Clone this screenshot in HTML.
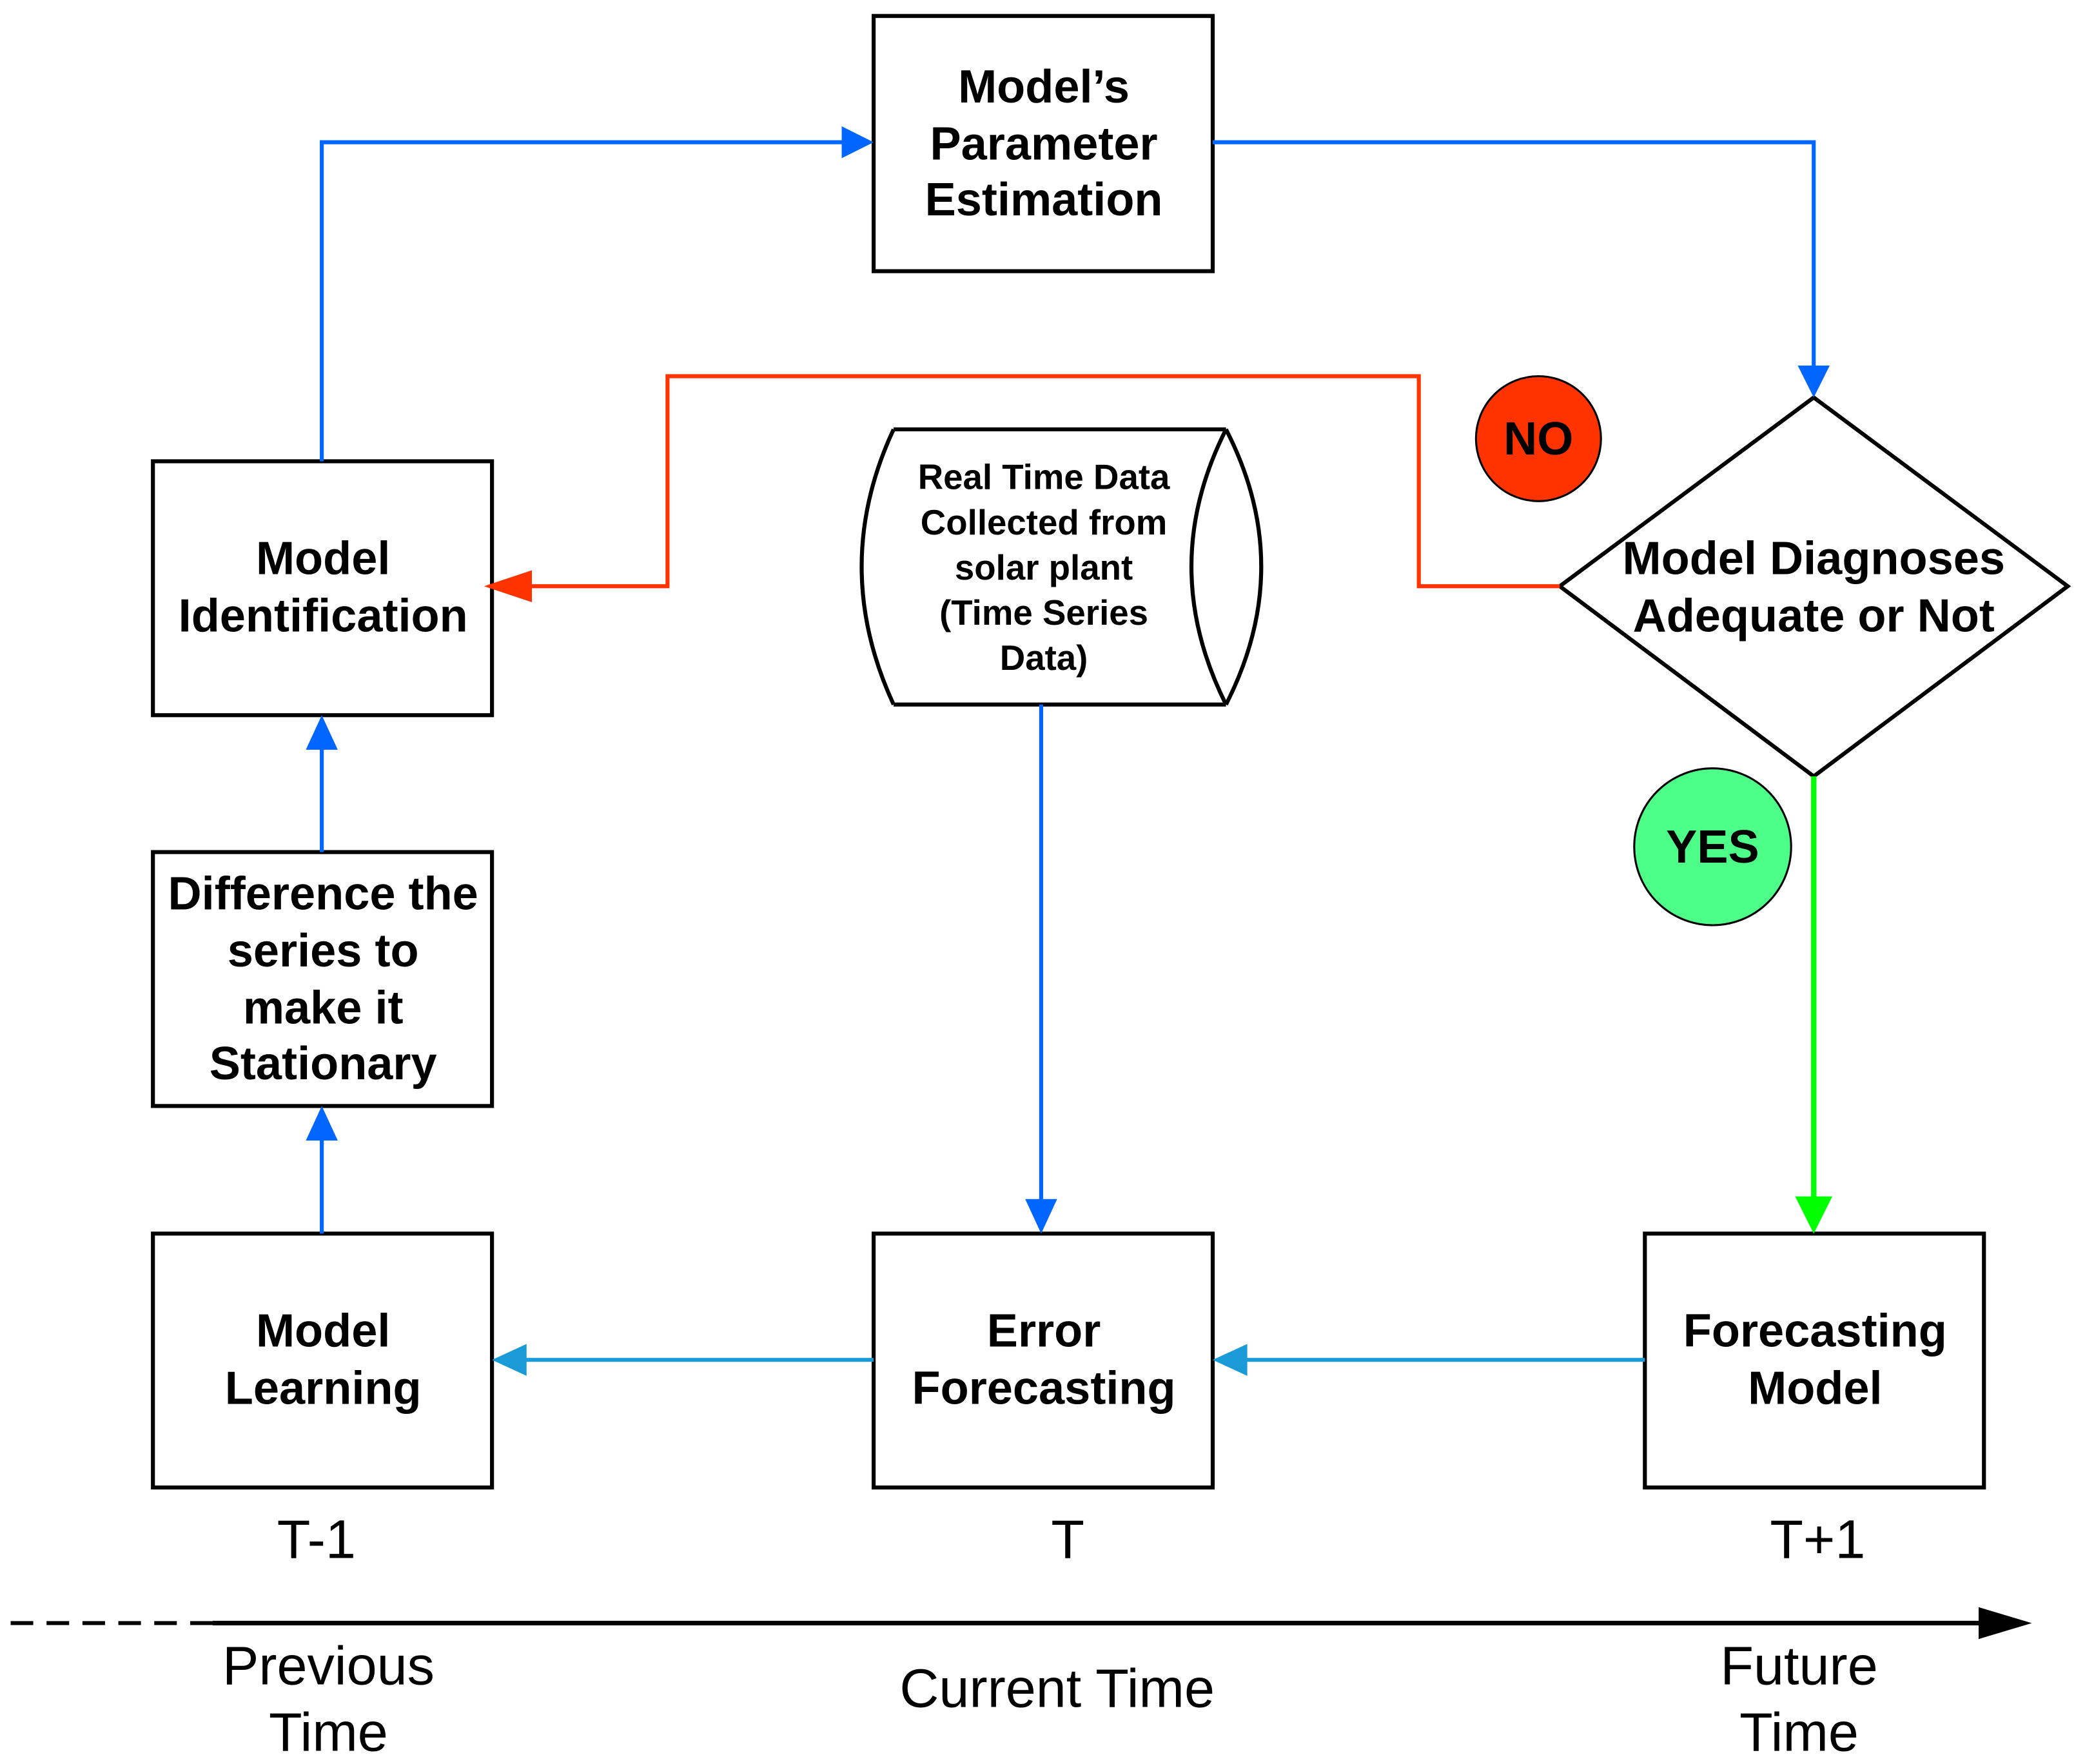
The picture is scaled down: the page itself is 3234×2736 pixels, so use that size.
<!DOCTYPE html>
<html><head><meta charset="utf-8"><style>
html,body{margin:0;padding:0;background:#fff;}
svg{display:block;}
text{font-family:"Liberation Sans",Arial,sans-serif;}
.b{font-weight:bold;font-size:35px;text-anchor:middle;fill:#000;}
.c{font-weight:bold;font-size:26.5px;text-anchor:middle;fill:#000;}
.n{font-size:41px;text-anchor:middle;fill:#000;}
</style></head><body>
<svg width="3234" height="2736" viewBox="0 0 1568 1327" preserveAspectRatio="none" xmlns="http://www.w3.org/2000/svg">
<g fill="none" stroke="#000" stroke-width="3">
<rect x="657" y="12" width="255" height="192"/>
<rect x="115" y="347" width="255" height="191"/>
<rect x="115" y="641" width="255" height="191"/>
<rect x="115" y="928" width="255" height="191"/>
<rect x="657" y="928" width="255" height="191"/>
<rect x="1237" y="928" width="255" height="191"/>
<path d="M1364,299 L1555,441 L1364,584 L1173,441 Z"/>
<path d="M672,323 L922,323 M672,530 L922,530 M672,323 Q624,426 672,530 M922,323 Q975,426 922,530 M922,323 Q870,426 922,530"/>
</g>
<circle cx="1157" cy="330" r="47" fill="#ff3300" stroke="#000" stroke-width="1.5"/>
<circle cx="1288" cy="637" r="59" fill="#4dff88" stroke="#000" stroke-width="1.5"/>
<g fill="none" stroke-width="3">
<path d="M242,347 V107 H636" stroke="#0066ff"/>
<path d="M912,107 H1364 V280" stroke="#0066ff"/>
<path d="M783,530 V908" stroke="#0066ff"/>
<path d="M242,928 V852" stroke="#0066ff"/>
<path d="M242,641 V558" stroke="#0066ff"/>
<path d="M1173,441 H1067 V283 H502 V441 H395" stroke="#ff3300"/>
<path d="M1364,584 V905" stroke="#00ff00" stroke-width="4"/>
<path d="M1237,1023 H935" stroke="#1a9ad6"/>
<path d="M657,1023 H392" stroke="#1a9ad6"/>
<path d="M8,1221 H160" stroke="#000" stroke-dasharray="17,10"/>
<path d="M160,1221 H1495" stroke="#000" stroke-width="3.5"/>
</g>
<g>
<path d="M657,107 L633,95 L633,119 Z" fill="#0066ff"/>
<path d="M1364,299 L1352,275 L1376,275 Z" fill="#0066ff"/>
<path d="M783,928 L771,902 L795,902 Z" fill="#0066ff"/>
<path d="M242,832 L230,858 L254,858 Z" fill="#0066ff"/>
<path d="M242,538 L230,564 L254,564 Z" fill="#0066ff"/>
<path d="M364,441 L400,429 L400,453 Z" fill="#ff3300"/>
<path d="M1364,928 L1350,900 L1378,900 Z" fill="#00ff00"/>
<path d="M912,1023 L938,1011 L938,1035 Z" fill="#1a9ad6"/>
<path d="M370,1023 L396,1011 L396,1035 Z" fill="#1a9ad6"/>
<path d="M1528,1221 L1488,1209 L1488,1233 Z" fill="#000"/>
</g>
<text class="b" x="785" y="77">Model’s</text>
<text class="b" x="785" y="120">Parameter</text>
<text class="b" x="785" y="162">Estimation</text>
<text class="b" x="243" y="432">Model</text>
<text class="b" x="243" y="475">Identification</text>
<text class="b" x="243" y="684">Difference the</text>
<text class="b" x="243" y="727">series to</text>
<text class="b" x="243" y="770">make it</text>
<text class="b" x="243" y="812">Stationary</text>
<text class="b" x="243" y="1013">Model</text>
<text class="b" x="243" y="1056">Learning</text>
<text class="b" x="785" y="1013">Error</text>
<text class="b" x="785" y="1056">Forecasting</text>
<text class="b" x="1365" y="1013">Forecasting</text>
<text class="b" x="1365" y="1056">Model</text>
<text class="b" x="1364" y="432">Model Diagnoses</text>
<text class="b" x="1364" y="475">Adequate or Not</text>
<text class="c" x="785" y="368">Real Time Data</text>
<text class="c" x="785" y="402">Collected from</text>
<text class="c" x="785" y="436">solar plant</text>
<text class="c" x="785" y="470">(Time Series</text>
<text class="c" x="785" y="504">Data)</text>
<text class="b" x="1157" y="342">NO</text>
<text class="b" x="1288" y="649">YES</text>
<text class="n" x="238" y="1172">T-1</text>
<text class="n" x="803" y="1172">T</text>
<text class="n" x="1367" y="1172">T+1</text>
<text class="n" x="247" y="1267">Previous</text>
<text class="n" x="247" y="1317">Time</text>
<text class="n" x="795" y="1284">Current Time</text>
<text class="n" x="1353" y="1267">Future</text>
<text class="n" x="1353" y="1317">Time</text>
</svg>
</body></html>
